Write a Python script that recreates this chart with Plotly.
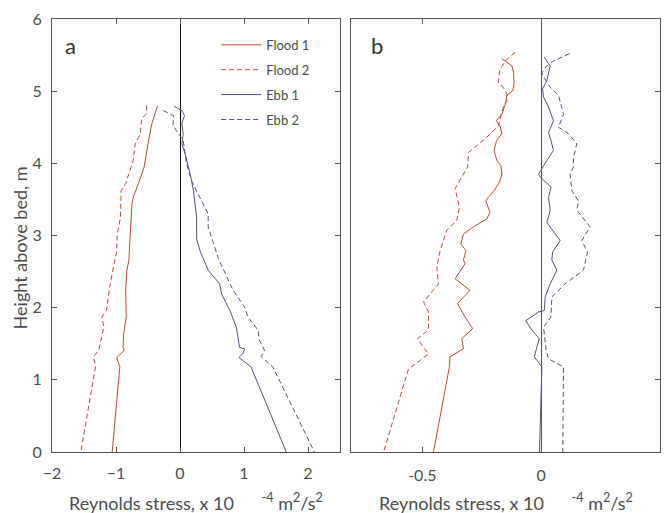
import plotly.graph_objects as go

# ---------------- data ----------------
# Panel a
a_flood1_x = [-0.35, -0.39, -0.44, -0.49, -0.54, -0.56, -0.65, -0.73, -0.75, -0.78, -0.79, -0.80, -0.83, -0.85, -0.84, -0.88, -0.89, -0.87, -0.99, -0.94, -1.06]
a_flood1_y = [4.80, 4.68, 4.55, 4.32, 4.09, 3.95, 3.72, 3.53, 3.44, 3.02, 2.79, 2.65, 2.52, 2.24, 1.87, 1.64, 1.45, 1.41, 1.31, 1.18, 0.0]

a_flood2_x = [-0.52, -0.53, -0.60, -0.62, -0.70, -0.73, -0.85, -0.92, -0.93, -0.98, -0.99, -1.01, -1.09, -1.14, -1.15, -1.22, -1.19, -1.27, -1.35, -1.32, -1.55]
a_flood2_y = [4.80, 4.68, 4.62, 4.41, 4.27, 4.04, 3.72, 3.62, 3.25, 3.02, 2.77, 2.70, 2.33, 2.06, 1.96, 1.87, 1.73, 1.41, 1.32, 1.18, 0.0]

a_ebb1_x = [-0.09, 0.03, 0.07, 0.03, 0.05, 0.03, 0.08, 0.16, 0.21, 0.23, 0.26, 0.26, 0.32, 0.44, 0.62, 0.65, 0.78, 0.88, 0.91, 0.93, 1.01, 0.98, 0.92, 1.11, 1.66]
a_ebb1_y = [4.79, 4.73, 4.66, 4.55, 4.41, 4.27, 4.13, 3.85, 3.62, 3.48, 3.25, 2.95, 2.77, 2.52, 2.33, 2.19, 1.96, 1.73, 1.59, 1.45, 1.43, 1.36, 1.31, 1.18, 0.0]

a_ebb2_x = [-0.26, -0.10, -0.11, -0.08, 0.00, 0.05, 0.10, 0.18, 0.28, 0.36, 0.44, 0.44, 0.54, 0.60, 0.83, 1.01, 1.06, 1.22, 1.24, 1.32, 1.27, 1.45, 2.10]
a_ebb2_y = [4.73, 4.66, 4.52, 4.48, 4.38, 4.32, 4.00, 3.76, 3.58, 3.44, 3.30, 3.12, 2.84, 2.68, 2.24, 2.01, 1.87, 1.69, 1.55, 1.41, 1.32, 1.18, 0.0]

# Panel b
b_flood1_x = [-0.165, -0.144, -0.123, -0.116, -0.114, -0.119, -0.144, -0.151, -0.165, -0.189, -0.173, -0.165, -0.187, -0.198, -0.187, -0.170, -0.165, -0.175, -0.198, -0.222, -0.233, -0.215, -0.229, -0.285, -0.327, -0.338, -0.316, -0.327, -0.320, -0.362, -0.299, -0.352, -0.320, -0.288, -0.334, -0.327, -0.383, -0.386, -0.453]
b_flood1_y = [5.45, 5.40, 5.35, 5.26, 5.10, 5.01, 4.94, 4.82, 4.68, 4.59, 4.52, 4.41, 4.32, 4.18, 4.04, 3.97, 3.85, 3.74, 3.62, 3.53, 3.48, 3.32, 3.23, 3.12, 3.02, 2.88, 2.79, 2.66, 2.61, 2.40, 2.24, 2.06, 1.87, 1.71, 1.57, 1.43, 1.32, 1.18, 0.0]

b_flood2_x = [-0.109, -0.151, -0.175, -0.180, -0.159, -0.144, -0.144, -0.159, -0.180, -0.229, -0.306, -0.309, -0.334, -0.362, -0.344, -0.355, -0.397, -0.411, -0.425, -0.439, -0.432, -0.495, -0.474, -0.474, -0.520, -0.495, -0.474, -0.509, -0.558, -0.663]
b_flood2_y = [5.54, 5.42, 5.28, 5.12, 5.05, 4.96, 4.87, 4.78, 4.52, 4.36, 4.15, 3.95, 3.81, 3.65, 3.39, 3.21, 3.07, 2.93, 2.79, 2.56, 2.33, 2.08, 1.94, 1.69, 1.57, 1.45, 1.36, 1.27, 1.15, 0.0]

b_ebb1_x = [0.013, 0.038, 0.024, 0.006, 0.010, 0.031, 0.052, 0.031, 0.041, 0.052, 0.024, -0.011, -0.004, 0.042, 0.031, 0.038, 0.024, 0.080, 0.048, 0.045, 0.066, 0.038, 0.017, 0.013, -0.011, -0.065, -0.039, -0.008, -0.029, 0.003, -0.007]
b_ebb1_y = [5.47, 5.35, 5.15, 5.03, 4.92, 4.78, 4.59, 4.43, 4.32, 4.18, 4.04, 3.85, 3.81, 3.67, 3.53, 3.35, 3.18, 2.93, 2.77, 2.66, 2.52, 2.33, 2.15, 1.96, 1.94, 1.82, 1.69, 1.57, 1.32, 1.18, 0.0]

b_ebb2_x = [0.119, 0.052, 0.017, 0.003, 0.031, 0.073, 0.094, 0.073, 0.115, 0.150, 0.136, 0.136, 0.122, 0.129, 0.157, 0.150, 0.206, 0.171, 0.195, 0.178, 0.101, 0.045, 0.041, 0.010, 0.021, 0.031, 0.094, 0.091]
b_ebb2_y = [5.52, 5.42, 5.33, 5.25, 5.08, 4.94, 4.68, 4.50, 4.41, 4.27, 4.08, 3.95, 3.85, 3.62, 3.48, 3.35, 3.12, 2.93, 2.77, 2.52, 2.33, 2.15, 1.87, 1.73, 1.41, 1.29, 1.18, 0.0]

series_names = ["Flood 1", "Flood 2", "Ebb 1", "Ebb 2"]
a_x_ticks = [-2, -1, 0, 1, 2]
b_x_ticks = [-0.5, 0, 0.5]
b_x_ticklabels = ["-0.5", "0", "0.5"]
y_ticks = [0, 1, 2, 3, 4, 5, 6]

# ---------------- style ----------------
FLOOD = "#c24a32"
EBB = "#52528a"
DASH = "5px,3px"
AXC = "#555555"
TXT = "#4d4d4d"
FONT = "Lato"

fig = go.Figure()

styles = [(FLOOD, "solid"), (FLOOD, DASH), (EBB, "solid"), (EBB, DASH)]
a_data = [(a_flood1_x, a_flood1_y), (a_flood2_x, a_flood2_y), (a_ebb1_x, a_ebb1_y), (a_ebb2_x, a_ebb2_y)]
b_data = [(b_flood1_x, b_flood1_y), (b_flood2_x, b_flood2_y), (b_ebb1_x, b_ebb1_y), (b_ebb2_x, b_ebb2_y)]

for i, ((xs, ys), (c, d)) in enumerate(zip(a_data, styles)):
    fig.add_trace(go.Scatter(x=xs, y=ys, mode="lines", name=series_names[i],
                             line=dict(color=c, width=1, dash=d),
                             legendgroup=f"g{i}", showlegend=True,
                             xaxis="x", yaxis="y"))
for i, ((xs, ys), (c, d)) in enumerate(zip(b_data, styles)):
    fig.add_trace(go.Scatter(x=xs, y=ys, mode="lines", name=series_names[i],
                             line=dict(color=c, width=1, dash=d),
                             legendgroup=f"g{i}", showlegend=False,
                             xaxis="x2", yaxis="y2"))

W, H = 670, 513
ml, mr, mt, mb = 52, 10, 18.5, 61
pw = W - ml - mr
a_dom = [0, (340 - ml) / pw]
b_dom = [(351 - ml) / pw, 1]

common = dict(showgrid=False, ticks="inside", ticklen=5, tickcolor=AXC,
              showline=True, linecolor=AXC, linewidth=1,
              tickfont=dict(family=FONT, size=16, color=TXT))

fig.update_layout(
    width=W, height=H,
    margin=dict(l=ml, r=mr, t=mt, b=mb),
    plot_bgcolor="white", paper_bgcolor="white",
    font=dict(family=FONT, color=TXT),
    xaxis=dict(domain=a_dom, range=[-2, 2.5], tickvals=a_x_ticks, mirror="ticks",
               zeroline=True, zerolinecolor="#111111", zerolinewidth=1,
               ticklabelstandoff=7, anchor="y", **common),
    yaxis=dict(domain=[0, 1], range=[0, 6], tickvals=y_ticks, mirror="ticks",
               zeroline=False, ticklabelstandoff=6, anchor="x", **common),
    xaxis2=dict(domain=b_dom, range=[-0.8, 0.5], tickvals=b_x_ticks, ticktext=b_x_ticklabels,
                mirror="ticks", zeroline=True, zerolinecolor=AXC, zerolinewidth=1,
                ticklabelstandoff=9, anchor="y2", **common),
    yaxis2=dict(domain=[0, 1], range=[0, 6], tickvals=y_ticks, side="right", mirror=True,
                showticklabels=False, zeroline=False, anchor="x2", **common),
    legend=dict(x=0.27, y=0.975, xanchor="left", yanchor="top", itemwidth=40,
                bgcolor="rgba(0,0,0,0)", borderwidth=0, tracegroupgap=5,
                font=dict(family=FONT, size=13, color=TXT)),
    showlegend=True,
)

title_txt = "Reynolds stress, x 10\u00a0\u00a0\u00a0\u00a0\u00a0\u00a0<sup>-4</sup> m<sup>2</sup>/s<sup>2</sup>"
ann = [
    dict(text=title_txt, xref="x domain", yref="paper", x=0.5, y=-0.115,
         xanchor="center", yanchor="middle", showarrow=False,
         font=dict(family=FONT, size=18, color=TXT)),
    dict(text=title_txt, xref="x2 domain", yref="paper", x=0.5, y=-0.115,
         xanchor="center", yanchor="middle", showarrow=False,
         font=dict(family=FONT, size=18, color=TXT)),
    dict(text="Height above bed, m", xref="paper", yref="paper", x=-0.053, y=0.472,
         xanchor="center", yanchor="middle", textangle=-90, showarrow=False,
         font=dict(family=FONT, size=18, color=TXT)),
    dict(text="a", xref="x domain", yref="paper", x=0.064, y=0.939,
         xanchor="center", yanchor="middle", showarrow=False,
         font=dict(family=FONT, size=22, color="#333333")),
    dict(text="b", xref="x2 domain", yref="paper", x=0.084, y=0.939,
         xanchor="center", yanchor="middle", showarrow=False,
         font=dict(family=FONT, size=22, color="#333333")),
]
fig.update_layout(annotations=ann)

fig.write_html("out.html", config={"displayModeBar": False},
               post_script="document.body.style.margin='0';document.body.style.padding='0';")
